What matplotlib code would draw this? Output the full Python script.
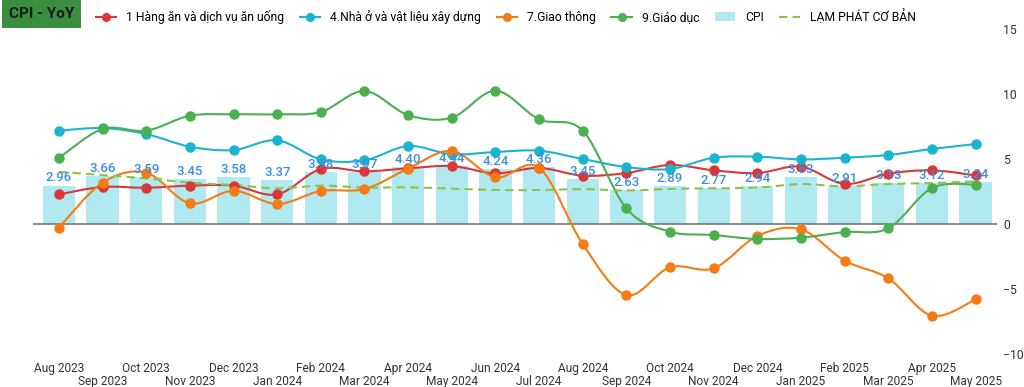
import numpy as np
import matplotlib.pyplot as plt
from matplotlib.path import Path
from matplotlib.patches import PathPatch

plt.rcParams['font.family'] = ['Roboto', 'DejaVu Sans']

# Dữ liệu
thang = ['Aug 2023', 'Sep 2023', 'Oct 2023', 'Nov 2023', 'Dec 2023', 'Jan 2024',
         'Feb 2024', 'Mar 2024', 'Apr 2024', 'May 2024', 'Jun 2024', 'Jul 2024',
         'Aug 2024', 'Sep 2024', 'Oct 2024', 'Nov 2024', 'Dec 2024', 'Jan 2025',
         'Feb 2025', 'Mar 2025', 'Apr 2025', 'May 2025']
cpi = [2.96, 3.66, 3.59, 3.45, 3.58, 3.37, 3.98, 3.97, 4.40, 4.44, 4.24, 4.36,
       3.45, 2.63, 2.89, 2.77, 2.94, 3.63, 2.91, 3.13, 3.12, 3.24]
hang_an = [2.28, 2.85, 2.79, 2.95, 2.95, 2.28, 4.23, 4.05, 4.28, 4.46, 3.90, 4.31,
           3.72, 3.92, 4.54, 4.13, 3.92, 4.41, 3.08, 3.87, 4.13, 3.74]
nha_o = [7.18, 7.38, 6.92, 5.95, 5.69, 6.44, 4.97, 4.90, 6.00, 5.36, 5.54, 5.64,
         5.00, 4.38, 4.23, 5.10, 5.18, 4.97, 5.10, 5.31, 5.77, 6.15]
giao_thong = [-0.28, 3.18, 3.95, 1.59, 2.56, 1.54, 2.54, 2.69, 4.26, 5.62, 3.59, 4.33,
              -1.54, -5.46, -3.33, -3.41, -0.92, -0.41, -2.82, -4.18, -7.05, -5.80]
giao_duc = [5.08, 7.31, 7.18, 8.33, 8.44, 8.44, 8.62, 10.23, 8.38, 8.18, 10.25, 8.05,
            7.18, 1.20, -0.59, -0.85, -1.15, -1.05, -0.62, -0.33, 2.77, 3.03]
lam_phat_cb = [4.02, 3.76, 3.51, 3.18, 3.00, 2.74, 2.95, 2.80, 2.82, 2.72, 2.62, 2.61,
               2.68, 2.58, 2.70, 2.75, 2.80, 3.07, 2.90, 3.08, 3.15, 3.28]


def duong_cong(ax, x, y, mau, ls='-', lw=1.5, marker=True, label=None):
    # đường cong mượt qua các điểm (Bezier Catmull-Rom)
    x = np.asarray(x, float)
    y = np.asarray(y, float)
    verts = [(x[0], y[0])]
    codes = [Path.MOVETO]
    n = len(x)
    for i in range(n - 1):
        p0 = (x[max(i - 1, 0)], y[max(i - 1, 0)])
        p1 = (x[i], y[i])
        p2 = (x[i + 1], y[i + 1])
        p3 = (x[min(i + 2, n - 1)], y[min(i + 2, n - 1)])
        t = 0.5 / 3
        c1 = (p1[0] + (p2[0] - p0[0]) * t, p1[1] + (p2[1] - p0[1]) * t)
        c2 = (p2[0] - (p3[0] - p1[0]) * t, p2[1] - (p3[1] - p1[1]) * t)
        verts += [c1, c2, p2]
        codes += [Path.CURVE4] * 3
    patch = PathPatch(Path(verts, codes), facecolor='none', edgecolor=mau,
                      lw=lw, ls=ls, zorder=3)
    ax.add_patch(patch)
    if marker:
        ax.plot(x, y, 'o', color=mau, ms=6.5, zorder=4)
    # mục chú thích
    h, = ax.plot([], [], color=mau, lw=lw, ls=ls, marker='o' if marker else None,
                 ms=5.5, label=label)
    return h


fig = plt.figure(figsize=(10.24, 3.87), dpi=100)
ax = fig.add_axes([0.032, 0.0853, 0.942, 0.8397])

x = np.arange(len(thang))

mau_hang_an = '#d93838'
mau_nha_o = '#1bb4cf'
mau_giao_thong = '#f77b14'
mau_giao_duc = '#4caf50'
mau_cb = '#8bc34a'

h1 = duong_cong(ax, x, hang_an, mau_hang_an, label='1 Hàng ăn và dịch vụ ăn uống')
h2 = duong_cong(ax, x, nha_o, mau_nha_o, label='4.Nhà ở và vật liệu xây dựng')
h3 = duong_cong(ax, x, giao_thong, mau_giao_thong, label='7.Giao thông')
h4 = duong_cong(ax, x, giao_duc, mau_giao_duc, label='9.Giáo dục')
bars = ax.bar(x, cpi, width=0.74, color='#b1e9f1', zorder=1, label='CPI')
h6 = duong_cong(ax, x, lam_phat_cb, mau_cb, ls=(0, (4, 2.5)), marker=False,
                label='LẠM PHÁT CƠ BẢN')

for xi, v in zip(x, cpi):
    ax.annotate(f'{v:.2f}', (xi, v), xytext=(0, 5.5), textcoords='offset points',
                ha='center', va='center', fontsize=9.5, color='#3a8ee6',
                fontweight='medium', zorder=5)

ax.axhline(0, color='#777777', lw=1.2, zorder=2)

ax.set_xlim(-0.6, 21.5)
ax.set_ylim(-10, 15)
ax.yaxis.tick_right()
ax.set_yticks([-10, -5, 0, 5, 10, 15])
ax.tick_params(axis='y', length=0, labelsize=8.8, colors='#333333', pad=4)

# nhãn tháng so le hai hàng
ax.set_xticks(x[::2])
ax.set_xticklabels(thang[::2])
ax.set_xticks(x[1::2], minor=True)
ax.set_xticklabels(thang[1::2], minor=True)
ax.tick_params(axis='x', which='major', length=0, pad=5.5, labelsize=8.6, colors='#333333')
ax.tick_params(axis='x', which='minor', length=0, pad=15, labelsize=8.6, colors='#333333')
for s in ax.spines.values():
    s.set_visible(False)

leg = fig.legend(handles=[h1, h2, h3, h4, bars, h6], loc='upper left',
                 bbox_to_anchor=(0.083, 1.005), ncol=6, frameon=False, fontsize=8.7,
                 handlelength=1.7, columnspacing=1.3, handletextpad=0.8)

fig.text(0.009, 0.963, 'CPI - YoY', fontsize=11, fontweight='bold', color='#1a1a1a',
         va='center', ha='left',
         bbox=dict(boxstyle='square,pad=0.45', facecolor='#3a8f3e', edgecolor='none'))

fig.savefig('out.png', dpi=100)
